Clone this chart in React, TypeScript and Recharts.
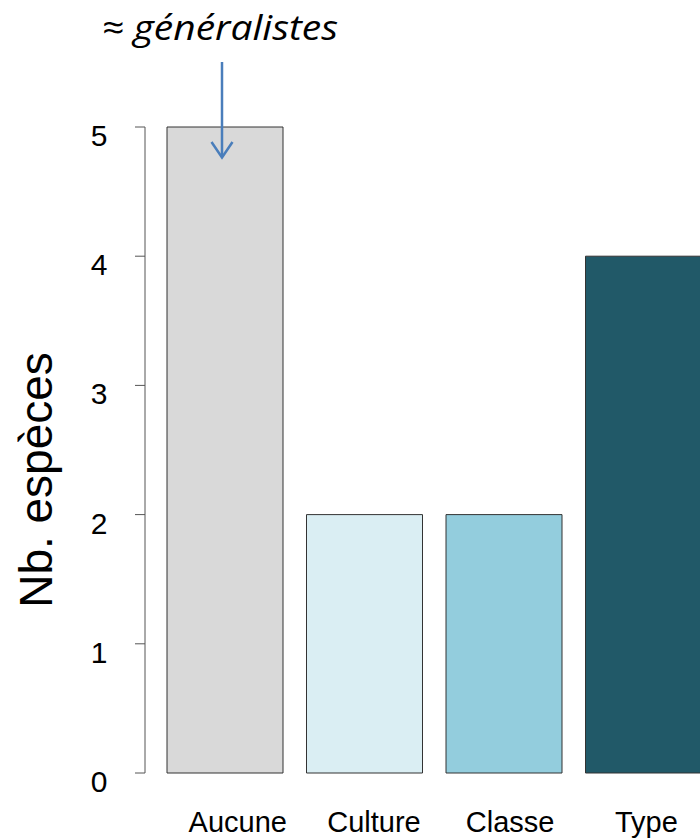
import React from 'react';
import { BarChart, Bar, XAxis, YAxis, Cell } from 'recharts';

const categories = ['Aucune', 'Culture', 'Classe', 'Type'];
const speciesCounts = [5, 2, 2, 4];
const barColors = ['#d9d9d9', '#daeef3', '#93cddd', '#215968'];
const yTicks = [0, 1, 2, 3, 4, 5];
const yLabel = 'Nb. espèces';
const annotation = '≈ généralistes';

const data = categories.map((c, i) => ({ name: c, value: speciesCounts[i] }));

const FONT = '"Liberation Sans", Arial, sans-serif';

const XTick = (props: any) => {
  const { x, y, payload, index } = props;
  const shift = 13 - 3.3 * (index || 0);
  return (
    <text x={x + shift} y={y + 59} textAnchor="middle" fontFamily={FONT} fontSize={29} fill="#000">
      {payload.value}
    </text>
  );
};

const YTick = (props: any) => {
  const { x, y, payload } = props;
  return (
    <text x={x - 36} y={y + 19} textAnchor="middle" fontFamily={FONT} fontSize={30} fill="#000">
      {payload.value}
    </text>
  );
};

export default function App() {
  return (
    <div style={{ position: 'absolute', left: 0, top: 0, width: 700, height: 840, overflow: 'hidden', background: '#fff' }}>
      <BarChart width={713} height={840} data={data} margin={{ top: 127, right: 0, bottom: 0, left: 0 }}>
        <XAxis
          dataKey="name"
          height={67}
          axisLine={false}
          tickLine={false}
          tickSize={0}
          tickMargin={0}
          padding={{ left: 10, right: 0 }}
          tick={<XTick />}
          interval={0}
        />
        <YAxis
          width={145}
          domain={[0, 5]}
          ticks={yTicks}
          axisLine={{ stroke: '#555', strokeWidth: 1 }}
          tickLine={{ stroke: '#555', strokeWidth: 1 }}
          tickSize={10}
          tickMargin={0}
          tick={<YTick />}
          interval={0}
        />
        <Bar dataKey="value" barSize={116} stroke="#333" strokeWidth={1} isAnimationActive={false}>
          {data.map((d, i) => (
            <Cell key={d.name} fill={barColors[i]} />
          ))}
        </Bar>
      </BarChart>
      <svg width={700} height={840} style={{ position: 'absolute', left: 0, top: 0, pointerEvents: 'none' }}>
        <text transform="translate(52,480) rotate(-90)" textAnchor="middle" fontFamily={FONT} fontSize={46} fill="#000">
          {yLabel}
        </text>
        <text
          x={102}
          y={40}
          textLength={236}
          lengthAdjust="spacingAndGlyphs"
          fontFamily="'Open Sans', Lato, sans-serif"
          fontStyle="italic"
          fontSize={35}
          fill="#000"
        >
          {annotation}
        </text>
        <line x1={222} y1={62} x2={222} y2={157} stroke="#4a7ebb" strokeWidth={2.5} />
        <polyline points="211.5,142 222,157.5 232.5,142" fill="none" stroke="#4a7ebb" strokeWidth={2.5} />
      </svg>
    </div>
  );
}
